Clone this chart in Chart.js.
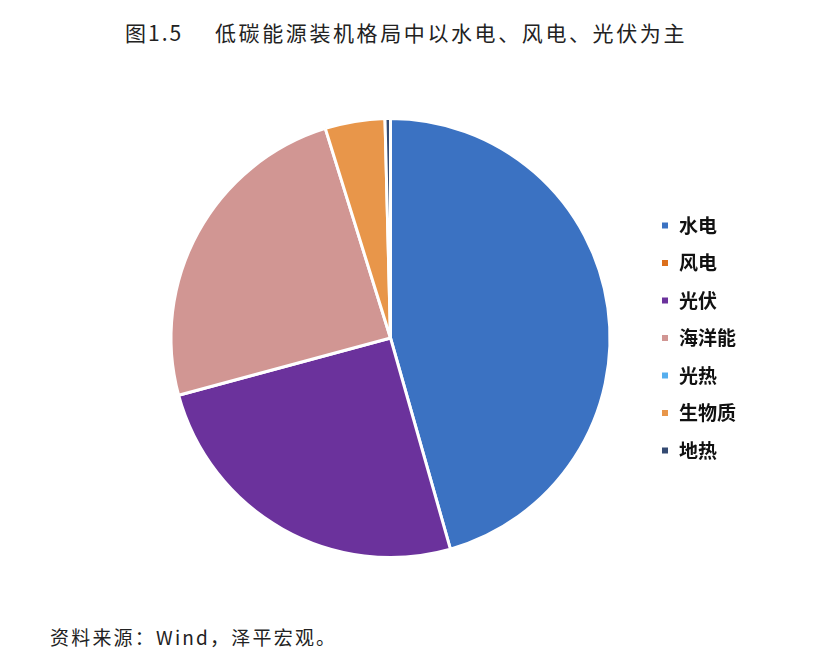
<!DOCTYPE html>
<html lang="zh">
  <head>
    <meta charset="UTF-8" />
    <title>低碳能源装机格局</title>
    <style>
      body {
        margin: 0;
        width: 813px;
        height: 663px;
        background: #fff;
        position: relative;
        font-family: "Noto Sans CJK SC", sans-serif;
        overflow: hidden;
      }
      .title {
        position: absolute;
        top: 17px;
        left: 125px;
        font-size: 21px;
        line-height: 30px;
        color: #222;
        white-space: nowrap;
      }
      .title .num {
        display: inline-block;
        width: 90px;
        letter-spacing: 2px;
      }
      .title .txt {
        letter-spacing: 2.6px;
      }
      .source {
        position: absolute;
        top: 623px;
        left: 50px;
        font-size: 19px;
        line-height: 28px;
        letter-spacing: 2.2px;
        color: #222;
        white-space: nowrap;
      }
      .chart-box {
        position: absolute;
        left: 0;
        top: 100px;
        width: 746px;
        height: 476px;
      }
    </style>
  </head>
  <body>
    <div class="title"><span class="num">图1.5</span><span class="txt">低碳能源装机格局中以水电、风电、光伏为主</span></div>
    <div class="chart-box"><canvas id="pie"></canvas></div>
    <div class="source">资料来源：Wind，泽平宏观。</div>

    <script src="https://cdn.jsdelivr.net/npm/chart.js"></script>
    <script>
      // shares in %
      const categories = ["水电", "风电", "光伏", "海洋能", "光热", "生物质", "地热"];
      const shares = [45.6, 0, 25.2, 24.4, 0, 4.4, 0.4];
      const colors = ["#3B72C2", "#DC6F1B", "#6B329C", "#D19693", "#56AEEE", "#E8964A", "#344A72"];

      new Chart(document.getElementById("pie"), {
        type: "pie",
        data: {
          labels: categories,
          datasets: [{
            data: shares,
            backgroundColor: colors,
            borderColor: "#fff",
            borderWidth: 3
          }]
        },
        options: {
          responsive: true,
          maintainAspectRatio: false,
          animation: false,
          layout: { padding: { top: 17, bottom: 17, left: 139, right: 0 } },
          plugins: {
            tooltip: { enabled: false },
            legend: {
              position: "right",
              labels: {
                boxWidth: 9,
                boxHeight: 9,
                padding: 18.5,
                color: "#111",
                font: { family: "'Noto Sans CJK SC'", size: 19, weight: "bold" }
              }
            }
          }
        }
      });
    </script>
  </body>
</html>
